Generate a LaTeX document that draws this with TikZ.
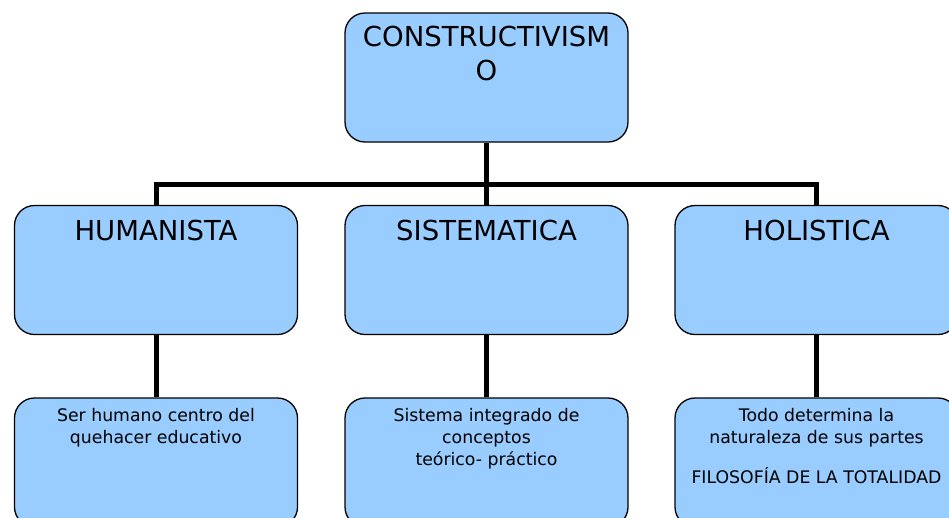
\documentclass[tikz,border=0pt]{standalone}
\usepackage{fontspec}
\setmainfont{DejaVu Sans}
\definecolor{cajaazul}{HTML}{99CCFF}

\begin{document}
\begin{tikzpicture}[x=1pt,y=-1pt,
  caja/.style={draw=black,line width=1.3pt,rounded corners=20pt,fill=cajaazul,
    minimum width=283pt,minimum height=129pt,inner sep=0pt},
  titulo/.style={font=\fontsize{27.5}{34}\selectfont,align=center,inner sep=0pt},
  texto/.style={font=\fontsize{17.3}{22}\selectfont,align=center,inner sep=0pt},
  conector/.style={line width=5pt,black}]
% Margins
\useasboundingbox (0,0) rectangle (949,517);
\clip (0,0) rectangle (949,517);
% Top box
\node[caja,label={[titulo,anchor=north,yshift=-14pt]north:CONSTRUCTIVISM\\O}] (raiz) at (486.5,77.5) {};
% Middle row
\node[caja,label={[titulo,anchor=north,yshift=-15pt]north:HUMANISTA}] (hum) at (156,270) {};
\node[caja,label={[titulo,anchor=north,yshift=-15pt]north:SISTEMATICA}] (sis) at (486.5,270) {};
\node[caja,label={[titulo,anchor=north,yshift=-15pt]north:HOLISTICA}] (hol) at (816.5,270) {};
% Bottom row
\node[caja,label={[texto,anchor=north,yshift=-11pt]north:Ser humano centro del\\quehacer educativo}] (hum2) at (156,462.5) {};
\node[caja,label={[texto,anchor=north,yshift=-11pt]north:Sistema integrado de\\conceptos\\teórico- práctico}] (sis2) at (486.5,462.5) {};
\node[caja,label={[texto,anchor=north,yshift=-11pt]north:Todo determina la\\naturaleza de sus partes\\[18pt]FILOSOFÍA DE LA TOTALIDAD}] (hol2) at (816.5,462.5) {};
% Connectors
\coordinate (barra) at (486.5,184);
\draw[conector] (raiz.south) -- (barra);
\draw[conector] (hum.north) |- (barra) -| (hol.north);
\draw[conector] (barra) -- (sis.north);
\draw[conector] (hum.south) -- (hum2.north);
\draw[conector] (sis.south) -- (sis2.north);
\draw[conector] (hol.south) -- (hol2.north);
\end{tikzpicture}
\end{document}
